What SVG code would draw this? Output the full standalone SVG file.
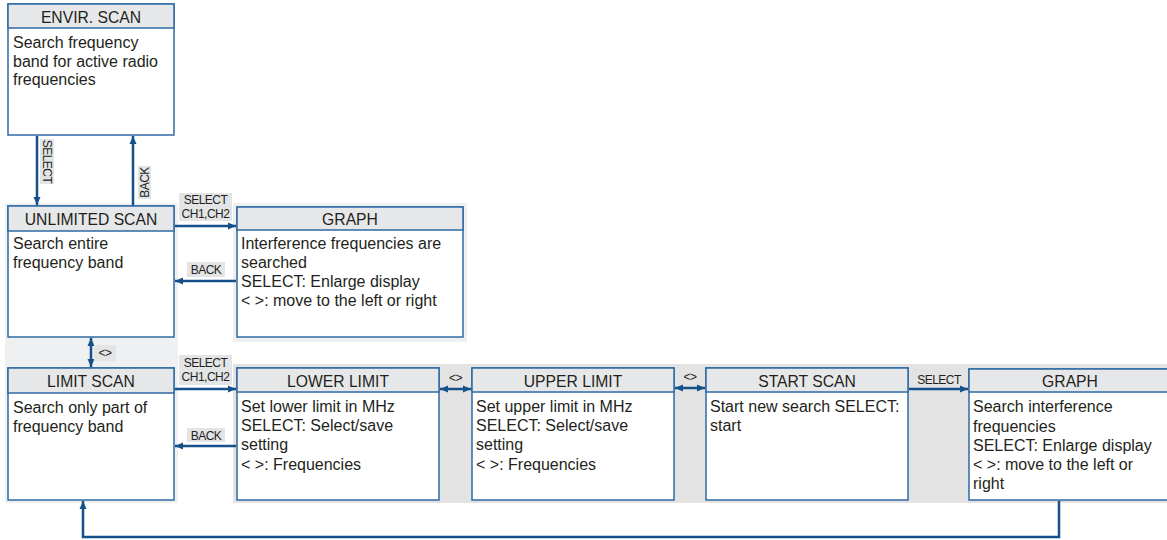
<svg xmlns="http://www.w3.org/2000/svg" width="1167" height="540" viewBox="0 0 1167 540">
<style>
.box{fill:#fff;stroke:#2f6aa3;stroke-width:1.5}
.hdr{fill:#e6e7e8;stroke:#2f6aa3;stroke-width:1.5}
.ht{font-family:"Liberation Sans",Arial,sans-serif;font-size:15.7px;fill:#231f20;text-anchor:middle}
.bt{font-family:"Liberation Sans",Arial,sans-serif;font-size:16px;fill:#231f20}
.lbl{font-family:"Liberation Sans",Arial,sans-serif;font-size:12px;fill:#231f20;letter-spacing:-0.5px}
.lblbg{fill:#e3e4e5}
.arr{stroke:#14508a;stroke-width:2.5;fill:none}
</style>
<defs>
<marker id="ah" markerUnits="userSpaceOnUse" markerWidth="10" markerHeight="10" refX="9" refY="5" orient="auto-start-reverse">
<path d="M1,1.5 L9,5 L1,8.5 Z" fill="#14508a"/>
</marker>
</defs>
<g id="panels">
<rect x="5" y="203" width="173" height="300" fill="#eff0f2"/>
<rect x="233" y="203" width="234" height="139" fill="#eff0f2"/>
<rect x="233" y="364" width="934" height="139" fill="#e3e3e3"/>
</g>
<g id="connectors">
<line class="arr" x1="37" y1="136" x2="37" y2="205" marker-end="url(#ah)"/>
<line class="arr" x1="133" y1="206" x2="133" y2="136" marker-end="url(#ah)"/>
<line class="arr" x1="175" y1="226" x2="236" y2="226" marker-end="url(#ah)"/>
<line class="arr" x1="236" y1="281" x2="175" y2="281" marker-end="url(#ah)"/>
<line class="arr" x1="91" y1="338" x2="91" y2="367" marker-start="url(#ah)" marker-end="url(#ah)"/>
<line class="arr" x1="175" y1="389" x2="236" y2="389" marker-end="url(#ah)"/>
<line class="arr" x1="236" y1="446" x2="175" y2="446" marker-end="url(#ah)"/>
<line class="arr" x1="440" y1="389" x2="471" y2="389" marker-start="url(#ah)" marker-end="url(#ah)"/>
<line class="arr" x1="675" y1="388" x2="705" y2="388" marker-start="url(#ah)" marker-end="url(#ah)"/>
<line class="arr" x1="909" y1="389" x2="968" y2="389" marker-end="url(#ah)"/>
<polyline class="arr" points="1059,501 1059,537 83,537 83,501" marker-end="url(#ah)"/>
<rect class="lblbg" x="40" y="139" width="14" height="45"/>
<text class="lbl" transform="translate(43,161.5) rotate(90)" text-anchor="middle">SELECT</text>
<rect class="lblbg" x="138" y="166" width="13" height="33"/>
<text class="lbl" transform="translate(149,182.5) rotate(-90)" text-anchor="middle">BACK</text>
<rect class="lblbg" x="179" y="193" width="53" height="28"/>
<text class="lbl" x="205.5" y="204" text-anchor="middle">SELECT</text>
<text class="lbl" x="205.5" y="218" text-anchor="middle">CH1,CH2</text>
<rect class="lblbg" x="187" y="262" width="38" height="15"/>
<text class="lbl" x="206" y="274" text-anchor="middle">BACK</text>
<rect class="lblbg" x="94" y="345" width="22" height="16"/>
<text class="lbl" x="105" y="357" text-anchor="middle">&lt;&gt;</text>
<rect class="lblbg" x="179" y="355" width="53" height="30"/>
<text class="lbl" x="205.5" y="367" text-anchor="middle">SELECT</text>
<text class="lbl" x="205.5" y="381" text-anchor="middle">CH1,CH2</text>
<rect class="lblbg" x="187" y="428" width="38" height="14"/>
<text class="lbl" x="206" y="439.5" text-anchor="middle">BACK</text>
<text class="lbl" x="455.5" y="382" text-anchor="middle">&lt;&gt;</text>
<text class="lbl" x="690" y="381" text-anchor="middle">&lt;&gt;</text>
<text class="lbl" x="939" y="384" text-anchor="middle">SELECT</text>
</g>
<g id="envir-scan">
<rect class="box" x="8" y="4" width="166" height="131"/>
<rect class="hdr" x="8" y="4" width="166" height="24"/>
<text class="ht" x="91" y="23">ENVIR. SCAN</text>
<text class="bt" x="13" y="48">Search frequency</text>
<text class="bt" x="13" y="66.5">band for active radio</text>
<text class="bt" x="13" y="85">frequencies</text>
</g>
<g id="unlimited-scan">
<rect class="box" x="8" y="206" width="166" height="131"/>
<rect class="hdr" x="8" y="206" width="166" height="25"/>
<text class="ht" x="91" y="225">UNLIMITED SCAN</text>
<text class="bt" x="13" y="249">Search entire</text>
<text class="bt" x="13" y="268">frequency band</text>
</g>
<g id="graph-top">
<rect class="box" x="237" y="207" width="226" height="130"/>
<rect class="hdr" x="237" y="207" width="226" height="23"/>
<text class="ht" x="350" y="225">GRAPH</text>
<text class="bt" x="241" y="248.5">Interference frequencies are</text>
<text class="bt" x="241" y="267.5">searched</text>
<text class="bt" x="241" y="287">SELECT: Enlarge display</text>
<text class="bt" x="241" y="306">&lt; &gt;: move to the left or right</text>
</g>
<g id="limit-scan">
<rect class="box" x="8" y="368" width="166" height="132"/>
<rect class="hdr" x="8" y="368" width="166" height="25"/>
<text class="ht" x="91" y="387">LIMIT SCAN</text>
<text class="bt" x="13" y="412.5">Search only part of</text>
<text class="bt" x="13" y="431.5">frequency band</text>
</g>
<g id="lower-limit">
<rect class="box" x="237" y="368" width="202" height="132"/>
<rect class="hdr" x="237" y="368" width="202" height="24"/>
<text class="ht" x="338" y="387">LOWER LIMIT</text>
<text class="bt" x="241" y="412">Set lower limit in MHz</text>
<text class="bt" x="241" y="431">SELECT: Select/save</text>
<text class="bt" x="241" y="450">setting</text>
<text class="bt" x="241" y="469.5">&lt; &gt;: Frequencies</text>
</g>
<g id="upper-limit">
<rect class="box" x="472" y="368" width="202" height="132"/>
<rect class="hdr" x="472" y="368" width="202" height="24"/>
<text class="ht" x="573" y="387">UPPER LIMIT</text>
<text class="bt" x="476" y="412">Set upper limit in MHz</text>
<text class="bt" x="476" y="431">SELECT: Select/save</text>
<text class="bt" x="476" y="450">setting</text>
<text class="bt" x="476" y="469.5">&lt; &gt;: Frequencies</text>
</g>
<g id="start-scan">
<rect class="box" x="706" y="368" width="202" height="132"/>
<rect class="hdr" x="706" y="368" width="202" height="24"/>
<text class="ht" x="807" y="387">START SCAN</text>
<text class="bt" x="710" y="412">Start new search SELECT:</text>
<text class="bt" x="710" y="431">start</text>
</g>
<g id="graph-bottom">
<rect class="box" x="969" y="369" width="205" height="131"/>
<rect class="hdr" x="969" y="369" width="205" height="23"/>
<text class="ht" x="1070" y="387">GRAPH</text>
<text class="bt" x="973" y="412">Search interference</text>
<text class="bt" x="973" y="431.5">frequencies</text>
<text class="bt" x="973" y="451">SELECT: Enlarge display</text>
<text class="bt" x="973" y="470">&lt; &gt;: move to the left or</text>
<text class="bt" x="973" y="489">right</text>
</g>
</svg>
